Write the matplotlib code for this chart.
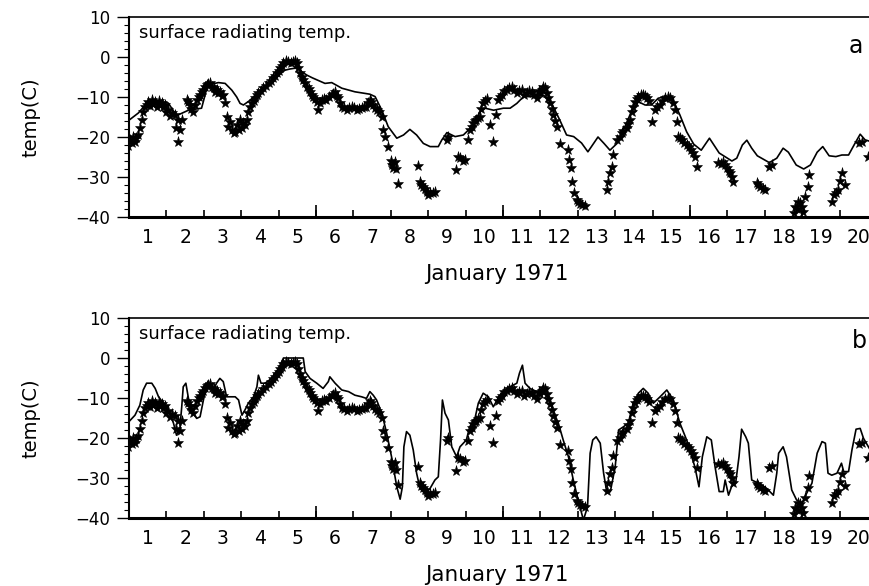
import matplotlib
matplotlib.use("Agg")
import matplotlib.pyplot as plt
import numpy as np

plt.rcParams['font.family'] = ['DejaVu Sans']

# Observed surface radiating temperature (day of January 1971, deg C)
obs_day = [0.98, 1.02, 1.07, 1.12, 1.16, 1.25, 1.29, 1.34, 1.38, 1.43, 1.52, 1.61, 1.70, 1.79,
           1.87, 1.96, 2.05, 2.14, 2.23, 2.32, 2.27, 2.36, 2.32, 2.41, 2.54, 2.63, 2.72, 2.81,
           2.90, 2.99, 3.08, 3.17, 3.26, 3.34, 3.43, 3.52, 3.57, 3.61, 3.70, 3.75, 3.84, 3.93,
           4.02, 3.97, 4.10, 4.15, 4.19, 4.28, 4.37, 4.46, 4.59, 4.73, 4.86, 4.95, 5.04, 5.13,
           5.26, 5.39, 5.48, 5.57, 5.66, 5.75, 5.84, 5.93, 6.02, 6.06, 6.15, 6.28, 6.42, 6.51,
           6.60, 6.69, 6.82, 6.95, 7.09, 7.22, 7.35, 7.44, 7.53, 7.62, 7.76, 7.80, 7.85, 7.93,
           8.03, 8.11, 8.07, 8.20, 8.74, 8.78, 8.87, 8.96, 9.05, 9.18, 9.50, 9.54, 9.74, 9.85,
           9.98, 10.07, 10.11, 10.20, 10.29, 10.38, 10.47, 10.56, 10.64, 10.72, 10.81, 10.87,
           10.96, 11.10, 11.23, 11.37, 11.50, 11.64, 11.77, 11.90, 11.99, 12.08, 12.17, 12.26,
           12.35, 12.44, 12.53, 12.75, 12.77, 12.81, 12.85, 12.90, 12.97, 13.07, 13.19, 13.77,
           13.82, 13.86, 13.91, 13.95, 14.04, 14.13, 14.17, 14.31, 14.40, 14.44, 14.53, 14.62,
           14.75, 14.84, 14.98, 15.07, 15.20, 15.34, 15.47, 15.60, 15.64, 15.69, 15.78, 15.91,
           16.04, 16.13, 16.20, 16.76, 16.89, 16.98, 17.07, 17.16, 17.78, 17.87, 18.01, 18.12,
           18.19, 18.77, 18.81, 18.90, 18.99, 19.03, 19.08, 19.15, 19.18, 19.79, 19.84, 19.97,
           20.06, 20.15, 20.51, 20.60, 20.77,
           1.20, 1.47, 1.56, 1.65, 1.74, 1.83, 1.92, 2.00, 2.10, 2.58, 2.67, 2.76, 2.86, 2.95,
           3.04, 3.12, 3.22, 3.30, 3.38, 3.48, 3.66, 3.80, 3.88, 4.06, 4.24, 4.33, 4.42, 4.52,
           4.66, 4.80, 4.90, 5.00, 5.09, 5.20, 5.33, 5.44, 5.52, 5.62, 5.70, 5.80, 5.88, 5.98,
           6.10, 6.22, 6.35, 6.46, 6.56, 6.64, 6.75, 6.88, 7.02, 7.15, 7.28, 7.40, 7.48, 7.58,
           7.68, 8.00, 8.15, 8.82, 8.92, 9.00, 9.12, 9.80, 9.92, 10.16, 10.25, 10.34, 10.42,
           10.52, 10.92, 11.04, 11.16, 11.30, 11.44, 11.56, 11.70, 11.84, 11.95, 12.04, 12.12,
           12.21, 12.30, 12.40, 13.00, 13.12, 14.22, 14.35, 14.48, 14.58, 14.68, 14.80, 14.90,
           15.12, 15.26, 15.40, 15.54, 15.74, 15.84, 15.98, 16.08, 16.82, 16.94, 17.03, 17.12,
           17.82, 17.94, 18.85, 18.95, 19.90, 20.02]
obs_temp = [-22.3, -20.8, -21.6, -19.9, -21.2, -19.5, -17.8, -15.8, -13.7, -12.4, -11.2, -10.8,
            -11.2, -11.0, -11.4, -12.0, -13.3, -14.1, -14.5, -15.8, -17.8, -18.3, -21.2, -15.8,
            -10.8, -12.0, -13.7, -10.8, -9.5, -8.3, -7.0, -6.6, -7.8, -8.3, -8.7, -9.5, -11.6,
            -14.9, -16.2, -18.3, -18.7, -18.3, -17.8, -15.8, -17.0, -15.8, -13.7, -11.6, -10.3,
            -9.1, -7.8, -6.6, -5.3, -4.1, -2.8, -1.6, -1.2, -1.2, -1.6, -4.1, -5.8, -7.4, -8.7,
            -9.9, -11.2, -13.3, -10.8, -10.8, -9.5, -8.7, -10.3, -12.4, -13.3, -12.4, -13.3,
            -12.8, -12.4, -10.8, -12.0, -13.3, -14.9, -18.3, -19.9, -22.4, -27.0, -26.2, -27.8,
            -31.8, -27.3, -31.2, -32.4, -33.7, -34.1, -33.7, -20.8, -19.9, -28.3, -25.3, -25.8,
            -20.8, -18.3, -16.6, -15.8, -14.9, -11.6, -10.6, -17.0, -21.2, -14.5, -10.8, -9.5,
            -8.3, -7.4, -9.1, -8.3, -9.1, -8.7, -10.3, -9.1, -7.4, -9.1, -11.6, -14.5, -17.4,
            -21.8, -23.3, -25.8, -27.8, -31.2, -34.1, -35.8, -36.8, -37.2, -33.3, -31.2, -29.1,
            -27.4, -24.5, -20.8, -19.9, -19.1, -17.8, -15.8, -13.7, -11.2, -9.9, -9.5, -10.3,
            -16.2, -13.3, -12.0, -10.3, -10.3, -13.3, -16.2, -19.9, -20.8, -22.0, -23.3, -24.9,
            -27.4, -26.6, -26.2, -27.8, -29.1, -31.2, -31.6, -32.4, -33.3, -27.4, -27.0, -39.0,
            -37.4, -36.2, -37.4, -38.7, -34.9, -32.4, -29.5, -36.2, -34.5, -33.3, -29.1, -32.0,
            -21.6, -21.2, -24.9,
            -20.3, -12.0, -12.2, -11.8, -12.4, -12.0, -12.6, -13.8, -14.8, -11.2, -13.0, -12.0,
            -10.0, -8.8, -7.6, -6.8, -7.4, -8.8, -9.0, -9.8, -17.5, -18.9, -17.0, -16.5, -12.5,
            -11.0, -9.6, -8.5, -7.2, -6.0, -4.8, -3.4, -2.2, -1.0, -1.6, -1.0, -2.8, -5.0, -6.6,
            -8.0, -9.4, -10.4, -11.4, -10.4, -10.0, -9.2, -9.8, -11.4, -12.8, -12.8, -12.8,
            -13.0, -12.6, -11.6, -11.2, -12.8, -13.8, -26.0, -28.0, -32.0, -33.0, -34.5, -34.0,
            -25.0, -26.0, -17.5, -16.0, -15.2, -13.0, -11.0, -10.0, -8.6, -7.8, -8.2, -8.6,
            -9.6, -8.4, -9.6, -8.5, -8.2, -7.8, -10.2, -13.0, -16.0, -36.2, -37.0, -18.5, -16.8,
            -12.5, -10.5, -9.6, -9.8, -11.0, -12.6, -11.0, -10.0, -11.5, -20.2, -21.4, -22.6,
            -24.0, -26.8, -27.0, -28.4, -30.0, -32.0, -33.0, -38.0, -36.5, -34.0, -31.0]

# Model run (a)
model_a_day = [1.00, 1.25, 1.47, 1.70, 2.05, 2.23, 2.31, 2.59, 2.94, 3.02, 3.08, 3.20, 3.39,
               3.57, 3.75, 3.88, 3.97, 4.06, 4.24, 4.46, 4.73, 5.00, 5.17, 5.30, 5.44, 5.52,
               5.62, 5.75, 5.90, 6.24, 6.42, 6.69, 7.04, 7.31, 7.44, 7.58, 7.76, 7.93, 8.16,
               8.34, 8.51, 8.69, 8.87, 9.05, 9.27, 9.36, 9.50, 9.72, 9.94, 10.17, 10.39, 10.52,
               10.75, 11.01, 11.19, 11.37, 11.55, 11.90, 12.08, 12.30, 12.52, 12.70, 12.89,
               13.10, 13.27, 13.54, 13.70, 13.86, 14.05, 14.26, 14.43, 14.62, 14.80, 14.97,
               15.15, 15.37, 15.55, 15.73, 15.91, 16.10, 16.30, 16.52, 16.78, 17.12, 17.25,
               17.40, 17.52, 17.65, 17.80, 18.12, 18.32, 18.49, 18.63, 18.84, 19.04, 19.22,
               19.40, 19.55, 19.72, 19.90, 20.06, 20.24, 20.41, 20.55, 20.68, 20.85]
model_a_temp = [-15.8, -14.0, -11.6, -11.0, -11.5, -14.1, -14.5, -13.3, -12.8, -10.0, -7.5,
                -6.8, -6.4, -6.6, -8.3, -10.0, -11.6, -12.0, -10.8, -8.7, -6.6, -4.5, -3.3,
                -3.0, -2.8, -2.3, -3.7, -4.5, -5.2, -6.6, -6.4, -7.8, -8.7, -9.1, -9.3, -9.9,
                -13.3, -17.4, -20.3, -19.5, -18.1, -19.5, -21.6, -22.4, -22.4, -20.8, -18.9,
                -19.9, -19.5, -17.4, -13.7, -12.8, -13.3, -12.8, -12.8, -11.6, -9.9, -9.9, -9.5,
                -11.6, -15.8, -19.5, -19.9, -21.5, -23.7, -20.0, -21.6, -23.3, -21.6, -17.4,
                -13.7, -11.2, -12.0, -12.0, -10.3, -9.9, -10.8, -14.5, -18.7, -21.8, -23.3,
                -20.3, -24.0, -26.0, -25.3, -22.0, -20.8, -22.8, -24.7, -26.4, -25.3, -22.8,
                -23.8, -27.0, -28.0, -27.0, -23.8, -22.4, -24.7, -24.9, -24.5, -24.5, -21.6,
                -19.3, -20.7, -21.2]

# Model run (b)
model_b_day = [1.00, 1.16, 1.29, 1.38, 1.47, 1.61, 1.70, 1.79, 1.92, 2.05, 2.19, 2.27, 2.36,
               2.41, 2.45, 2.52, 2.59, 2.68, 2.81, 2.90, 2.99, 3.08, 3.17, 3.26, 3.34, 3.43,
               3.52, 3.61, 3.70, 3.84, 3.93, 4.02, 4.10, 4.19, 4.33, 4.42, 4.46, 4.53, 4.64,
               4.82, 5.00, 5.13, 5.66, 5.71, 5.84, 6.02, 6.19, 6.33, 6.37, 6.51, 6.69, 6.87,
               7.04, 7.22, 7.35, 7.44, 7.53, 7.62, 7.76, 7.89, 8.02, 8.16, 8.25, 8.31, 8.35,
               8.42, 8.51, 8.60, 8.69, 8.78, 8.91, 9.05, 9.18, 9.27, 9.33, 9.38, 9.45, 9.54,
               9.63, 9.76, 9.85, 10.02, 10.11, 10.25, 10.34, 10.47, 10.61, 10.74, 10.87, 11.01,
               11.19, 11.37, 11.44, 11.52, 11.59, 11.72, 11.90, 12.08, 12.21, 12.35, 12.48,
               12.61, 12.75, 12.88, 13.02, 13.15, 13.26, 13.33, 13.40, 13.49, 13.60, 13.69,
               13.78, 13.87, 14.00, 14.09, 14.22, 14.35, 14.48, 14.62, 14.75, 14.88, 15.02,
               15.20, 15.38, 15.55, 15.73, 15.91, 16.13, 16.24, 16.33, 16.45, 16.57, 16.67,
               16.78, 16.89, 16.94, 17.03, 17.11, 17.22, 17.31, 17.38, 17.49, 17.56, 17.65,
               17.83, 18.05, 18.23, 18.32, 18.37, 18.49, 18.58, 18.72, 18.85, 18.99, 19.12,
               19.26, 19.40, 19.53, 19.62, 19.69, 19.79, 19.93, 20.05, 20.11, 20.24, 20.33,
               20.44, 20.55, 20.64, 20.82]
model_b_temp = [-15.9, -14.3, -11.8, -8.0, -6.3, -6.3, -7.6, -9.7, -11.3, -13.0, -16.3, -19.3,
                -17.6, -12.2, -7.2, -6.3, -10.1, -13.4, -15.1, -14.7, -10.5, -6.8, -6.3, -8.0,
                -6.3, -5.1, -5.9, -9.7, -9.7, -9.7, -10.5, -14.3, -13.0, -11.3, -9.7, -7.2,
                -4.3, -6.3, -6.3, -5.1, -2.6, 0.0, 0.0, -3.4, -5.1, -6.3, -7.6, -5.9, -4.7,
                -6.3, -8.0, -8.4, -9.3, -9.7, -10.1, -8.4, -9.3, -10.5, -13.8, -18.8, -24.7,
                -32.2, -35.3, -32.2, -22.2, -18.4, -19.3, -23.0, -28.8, -32.6, -33.8, -32.6,
                -30.5, -29.7, -20.5, -10.5, -13.8, -15.5, -22.2, -24.7, -22.2, -20.5, -17.2,
                -15.1, -11.3, -8.8, -9.7, -12.2, -10.1, -8.4, -7.2, -6.3, -3.8, -1.8, -6.3,
                -7.6, -8.4, -8.0, -10.1, -13.4, -16.3, -20.5, -24.7, -30.5, -35.9, -40.5, -37.2,
                -23.8, -20.5, -19.7, -21.3, -28.8, -33.8, -33.4, -27.2, -18.0, -17.2, -16.3,
                -11.3, -8.8, -7.6, -8.8, -11.3, -9.7, -8.0, -10.5, -16.3, -20.5, -27.2, -32.2,
                -24.7, -19.7, -20.5, -27.2, -33.4, -33.4, -30.5, -34.3, -32.2, -31.3, -24.7,
                -17.8, -19.7, -21.3, -30.5, -31.3, -32.6, -34.3, -28.8, -23.8, -22.2, -24.7,
                -33.0, -35.5, -36.3, -33.8, -31.3, -23.8, -20.9, -21.3, -28.8, -29.3, -28.8,
                -26.3, -28.4, -28.4, -23.0, -17.8, -17.6, -20.1, -23.0]

days = list(range(1, 21))
panel_tags = ['a', 'b']
panel_text = 'surface radiating temp.'
xlabel_text = 'January 1971'
ylabel_text = 'temp(C)'

fig = plt.figure(figsize=(8.7, 5.86), dpi=100)
W, H = 870.0, 586.0
ax_left, ax_width = 129 / W, 748 / W
ax_height = 200 / H
bottoms = [1 - 217 / H, 1 - 518 / H]
tag_pos = [(0.972, 0.82), (0.977, 0.85)]

models = [(model_a_day, model_a_temp), (model_b_day, model_b_temp)]

for i in range(2):
    ax = fig.add_axes([ax_left, bottoms[i], ax_width, ax_height])
    mday, mtemp = models[i]
    ax.plot(mday, mtemp, color='black', lw=1.2, zorder=2)
    ax.plot(obs_day, obs_temp, linestyle='none', marker='*', ms=8,
            color='black', mec='black', mew=0.4, zorder=3)

    ax.set_xlim(1, 21)
    ax.set_ylim(-40, 10)

    # y axis: outward ticks every 10 with minor ticks every 2
    ax.set_yticks(np.arange(-40, 11, 10))
    ax.set_yticks(np.arange(-40, 11, 2), minor=True)
    ax.tick_params(axis='y', which='major', direction='out', length=8.5, width=1.0,
                   labelsize=12, pad=5)
    ax.tick_params(axis='y', which='minor', direction='out', length=3.5, width=0.8)

    # x axis: labels centred on each day, inward ticks at day boundaries
    ax.set_xticks([d + 0.5 for d in days])
    ax.set_xticklabels([str(d) for d in days])
    ax.set_xticks(np.arange(2, 21), minor=True)
    ax.tick_params(axis='x', which='major', length=0, labelsize=13.5, pad=8)
    ax.tick_params(axis='x', which='minor', direction='in', length=5, width=1.2)
    sec = ax.secondary_xaxis('bottom')
    sec.set_xticks([6, 11, 16])
    sec.tick_params(direction='in', length=9, width=1.2, labelbottom=False)
    sec.spines['bottom'].set_visible(False)

    ax.spines['right'].set_visible(False)
    ax.spines['left'].set_linewidth(1.5)
    ax.spines['bottom'].set_linewidth(2.2)
    ax.spines['top'].set_linewidth(1.2)

    ax.set_ylabel(ylabel_text, fontsize=14)
    ax.yaxis.set_label_coords(-0.118, 0.5)
    ax.set_xlabel(xlabel_text, fontsize=15.5)
    ax.xaxis.set_label_coords(0.492, -0.235)

    ax.text(0.013, 0.92, panel_text, transform=ax.transAxes, fontsize=13,
            ha='left', va='center')
    ax.text(tag_pos[i][0], tag_pos[i][1], panel_tags[i], transform=ax.transAxes,
            fontsize=17, ha='center', va='baseline')

fig.savefig('out.png', dpi=100)
